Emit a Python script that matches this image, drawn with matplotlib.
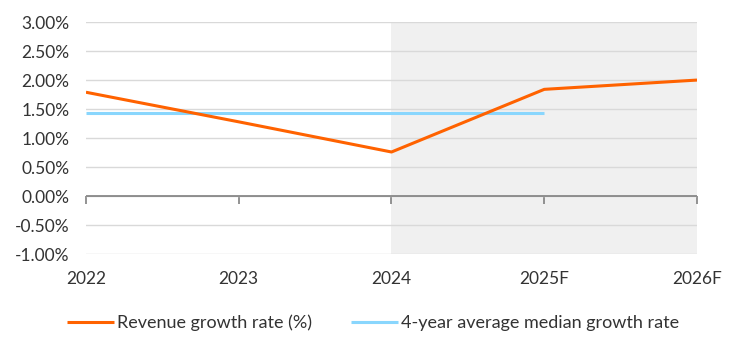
import matplotlib.pyplot as plt
from matplotlib.ticker import FuncFormatter

plt.rcParams["font.family"] = ["Lato", "DejaVu Sans"]

anni = ["2022", "2023", "2024", "2025F", "2026F"]
crescita_ricavi = [1.79, 1.28, 0.76, 1.84, 2.00]
mediana_4anni = [1.43, 1.43, 1.43, 1.43]  # da 2022 a 2025F

ARANCIO = "#FF6200"
AZZURRO = "#89D6FD"
GRIGLIA = "#d9d9d9"
ASSE = "#808080"
TESTO = "#333333"

fig = plt.figure(figsize=(7.45, 3.5), dpi=100)
ax = fig.add_axes([0.1154, 0.274, 0.8202, 0.663])

x = list(range(len(anni)))

# zona previsioni ombreggiata
ax.axvspan(x[2], x[-1], color="#f0f0f0", zorder=0, lw=0)

ax.plot(x, crescita_ricavi, color=ARANCIO, lw=2.2, zorder=4,
        label="Revenue growth rate (%)", solid_capstyle="butt")
ax.plot(x[:len(mediana_4anni)], mediana_4anni, color=AZZURRO, lw=2.2, zorder=3,
        label="4-year average median growth rate", solid_capstyle="butt")

ax.set_xlim(x[0], x[-1])
ax.set_ylim(-1.0, 3.0)
ax.set_yticks([-1.0 + 0.5 * i for i in range(9)])
ax.yaxis.set_major_formatter(FuncFormatter(lambda v, _: f"{v:.2f}%"))
ax.grid(axis="y", color=GRIGLIA, lw=1, zorder=1)
ax.set_axisbelow(True)

for s in ax.spines.values():
    s.set_visible(False)

ax.set_xticks(x, anni)
ax.tick_params(axis="x", length=0, pad=12, labelsize=12.5, labelcolor=TESTO)
ax.tick_params(axis="y", length=0, pad=12, labelsize=12.5, labelcolor=TESTO)

# asse dello zero con le tacche
ax.axhline(0, color=ASSE, lw=1.2, zorder=2)
asse0 = ax.secondary_xaxis(0.25)
asse0.set_xticks(x, [""] * len(x))
asse0.tick_params(axis="x", length=6, width=1.2, color=ASSE)
asse0.spines["bottom"].set_visible(False)

ax.legend(loc="upper center", bbox_to_anchor=(0.47, -0.19), ncol=2, frameon=False,
          fontsize=13, handlelength=2.6, handletextpad=0.15, columnspacing=2.2,
          labelcolor=TESTO)

fig.savefig("out.png", dpi=100, facecolor="white")
